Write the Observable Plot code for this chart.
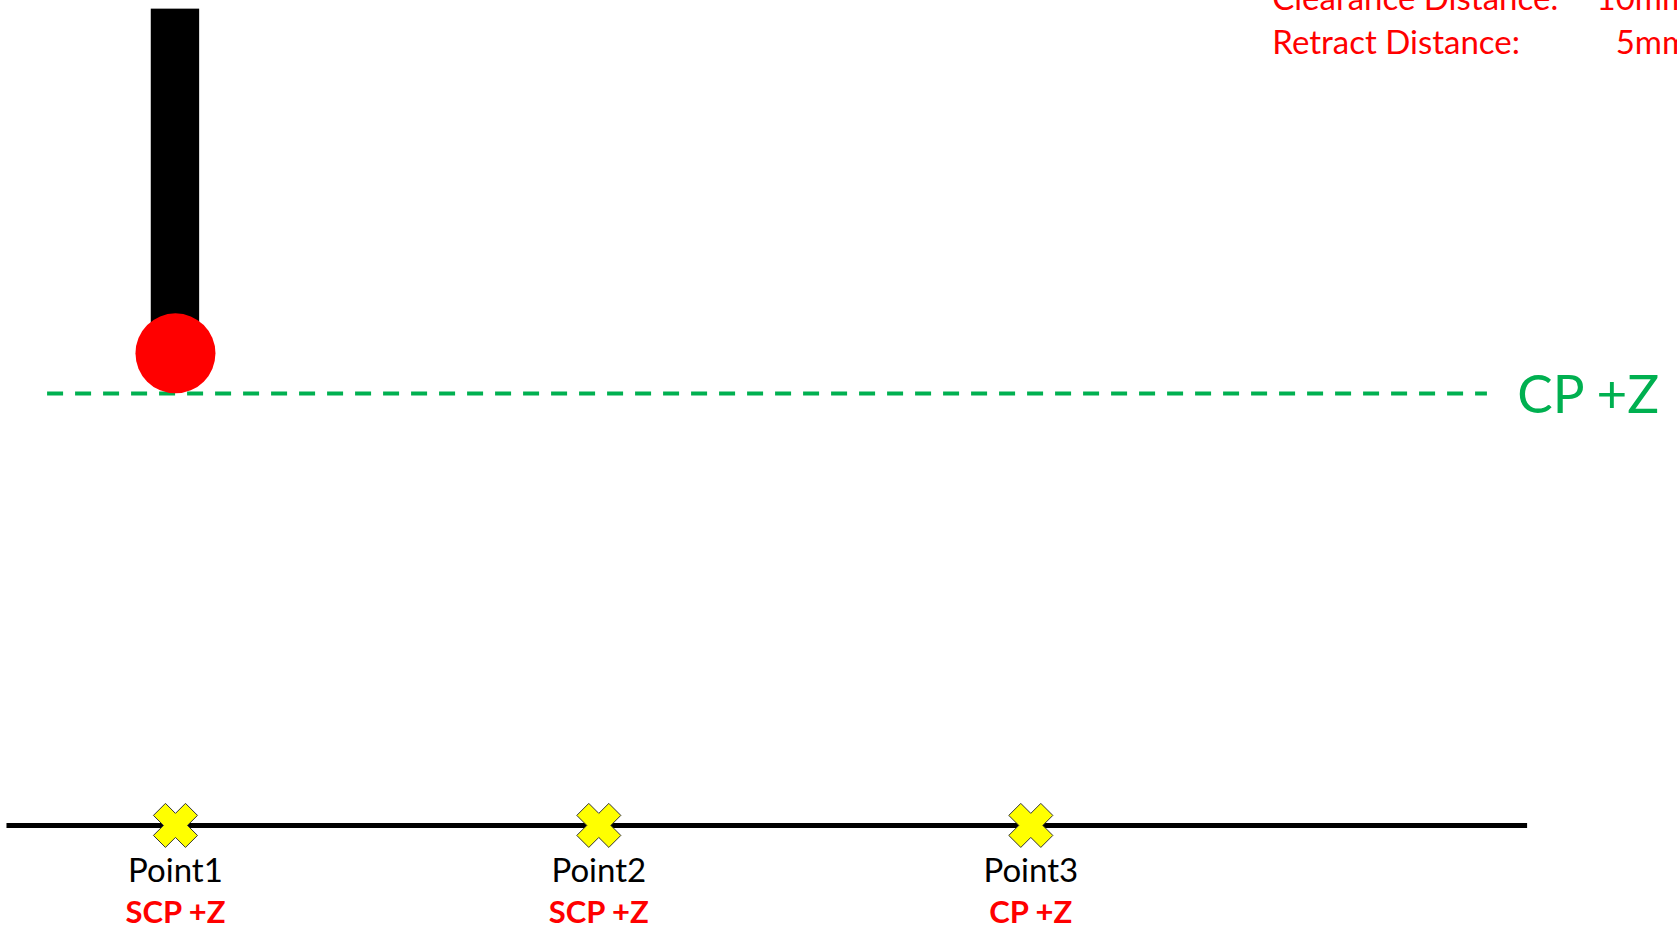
<!DOCTYPE html>
<html>
<head>
<meta charset="utf-8">
<script src="https://cdn.jsdelivr.net/npm/d3@7"></script>
<script src="https://cdn.jsdelivr.net/npm/@observablehq/plot@0.6"></script>
<style>
  html, body { margin: 0; padding: 0; background: #ffffff; overflow: hidden; }
  #chart svg { display: block; }
</style>
</head>
<body>
<div id="chart"></div>
<script>
// ---- Data (units: mm; x along the surface, z height above the surface) ----
const pointNames = ["Point1", "Point2", "Point3"];
const pointX = [0, 9.8, 19.8];
const pointModes = ["SCP +Z", "SCP +Z", "CP +Z"];

const cpHeight = 10;            // CP +Z plane height
const cpLabel = "CP +Z";
const cpLineExtent = [-2.96, 30.37];
const surfaceExtent = [-3.9, 31.3];

const probeX = 0;
const probeBallCenterZ = 10.93;
const probeTopZ = 18.9;
const probeHalfWidth = 0.56;

const settingLabels = ["Clearance Distance:", "Retract Distance:"];
const settingValues = ["10mm", "5mm"];
const settingZ = [18.87, 17.85];
const settingLabelX = 25.39;
const settingValueX = 35.04;

// ---- Tables built from the arrays ----
const points = pointNames.map((name, i) => ({name, x: pointX[i], mode: pointModes[i], z: 0}));
const settings = settingLabels.map((label, i) => ({label, value: settingValues[i], z: settingZ[i]}));

// Filled "X" symbol (rotated plus with outlined arms)
const crossSymbol = {
  draw(context, size) {
    const r = Math.sqrt(size / Math.PI);
    const L = 1.03 * r, w = 0.386 * r;
    const pts = [[w, L], [w, w], [L, w], [L, -w], [w, -w], [w, -L],
                 [-w, -L], [-w, -w], [-L, -w], [-L, w], [-w, w], [-w, L]];
    const s = Math.SQRT1_2;
    pts.forEach(([x, y], i) => {
      const px = (x - y) * s, py = (x + y) * s;
      if (i === 0) context.moveTo(px, py); else context.lineTo(px, py);
    });
    context.closePath();
  }
};

const font = "Lato, 'Open Sans', sans-serif";

const chart = Plot.plot({
  width: 1677,
  height: 929,
  margin: 0,
  x: {domain: [-4.05, 34.77], axis: null},
  y: {domain: [-2.41, 19.1], axis: null},
  style: {background: "#ffffff", fontFamily: font, overflow: "visible"},
  marks: [
    // surface line
    Plot.ruleY([0], {x1: surfaceExtent[0], x2: surfaceExtent[1], stroke: "#000000", strokeWidth: 5}),
    // CP +Z dashed plane
    Plot.ruleY([cpHeight], {x1: cpLineExtent[0], x2: cpLineExtent[1], stroke: "#00B050", strokeWidth: 4, strokeDasharray: "16,12"}),
    Plot.text([cpLabel], {x: 31.06, y: cpHeight, text: d => d, textAnchor: "start", lineAnchor: "middle", dy: 3, fill: "#00B050", fontSize: 53, fontFamily: font}),
    // probe shaft
    Plot.rect([{x: probeX}], {x1: d => d.x - probeHalfWidth, x2: d => d.x + probeHalfWidth, y1: probeBallCenterZ, y2: probeTopZ, fill: "#000000"}),
    // probe ball
    Plot.dot([{x: probeX, z: probeBallCenterZ}], {x: "x", y: "z", r: 40, fill: "#FF0000", stroke: "none"}),
    // measured points
    Plot.dot(points, {x: "x", y: "z", r: 22, symbol: crossSymbol, fill: "#FFFF00", stroke: "#333333", strokeWidth: 1}),
    Plot.text(points, {x: "x", y: "z", text: "name", lineAnchor: "bottom", dy: 57, fill: "#000000", fontSize: 33, fontFamily: font}),
    Plot.text(points, {x: "x", y: "z", text: "mode", lineAnchor: "bottom", dy: 98, fill: "#FF0000", fontSize: 31, fontWeight: "bold", fontFamily: font}),
    // settings annotation
    Plot.text(settings, {x: settingLabelX, y: "z", text: "label", textAnchor: "start", lineAnchor: "bottom", fill: "#FF0000", fontSize: 33, fontFamily: font}),
    Plot.text(settings, {x: settingValueX, y: "z", text: "value", textAnchor: "end", lineAnchor: "bottom", fill: "#FF0000", fontSize: 33, fontFamily: font})
  ]
});

document.getElementById("chart").appendChild(chart);
</script>
</body>
</html>
